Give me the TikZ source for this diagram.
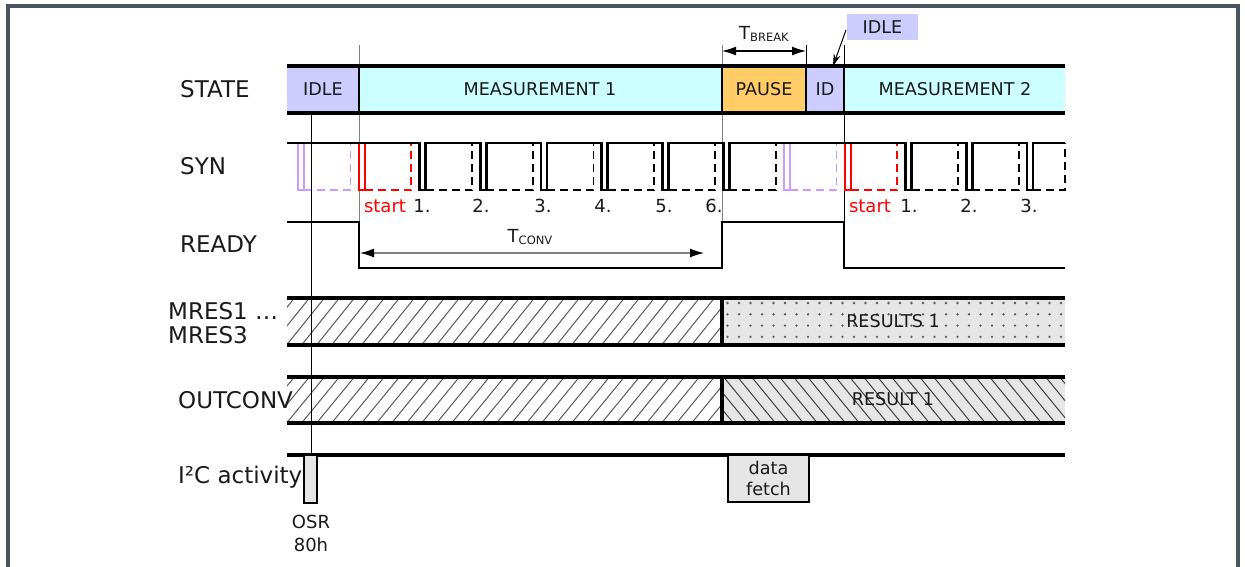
\documentclass[tikz,border=0pt]{standalone}
\usepackage{fontspec}
\setmainfont{DejaVu Sans}
\usetikzlibrary{arrows.meta}
\definecolor{lav}{HTML}{CCCCFF}
\definecolor{cyanl}{HTML}{CCFFFF}
\definecolor{orng}{HTML}{FFCC66}
\definecolor{lgray}{HTML}{E6E6E6}
\definecolor{purp}{HTML}{CC99FF}
\definecolor{framec}{HTML}{4A5562}
\definecolor{txt}{HTML}{1A1A1A}
\begin{document}
\begin{tikzpicture}[x=1pt,y=-1pt,
  rowlab/.style={anchor=west,font=\fontsize{23}{26}\selectfont,text=txt,inner sep=0pt},
  boxlab/.style={font=\fontsize{17.6}{20}\selectfont,text=txt,inner sep=0pt},
  numlab/.style={font=\fontsize{18}{20}\selectfont,text=txt,inner sep=0pt},
  bus/.style={line width=3.2pt},
  sig/.style={line width=2.8pt},
  dsig/.style={line width=1.8pt,dash pattern=on 8pt off 5pt},
  guide/.style={line width=0.9pt},
  hatch/.style={line width=1pt,black!65},
  dimarrow/.style={line width=1.3pt,{Latex[length=14pt,width=9pt,black]}-{Latex[length=14pt,width=9pt,black]}},
]
\useasboundingbox (0,0) rectangle (1245,566);
% frame
\draw[framec,line width=3.5pt] (8,600) -- (8,6) -- (1238,6) -- (1238,600);

% ---------- STATE row
\fill[lav]   (287,66) rectangle (359,113);
\fill[cyanl] (359,66) rectangle (722,113);
\fill[orng]  (722,66) rectangle (806,113);
\fill[lav]   (806,66) rectangle (844,113);
\fill[cyanl] (844,66) rectangle (1065,113);

% guides
\draw[guide,gray] (359,45) -- (359,268);
\draw[guide,gray] (722,45) -- (722,268);
\draw[guide] (806,45) -- (806,66);
\draw[guide] (844,45) -- (844,268);

\draw[bus] (287,66) -- (1065,66) (287,113) -- (1065,113);
\draw[line width=1.8pt] (359,66) -- (359,113) (722,66) -- (722,113) (806,66) -- (806,113) (844,66) -- (844,113);

\node[boxlab] (sidle) at (323,89) {IDLE};
\node[boxlab] (smeas1) at (540,89) {MEASUREMENT 1};
\node[boxlab] (spause) at (764,89) {PAUSE};
\node[boxlab] (sid) at (825,89) {ID};
\node[boxlab] (smeas2) at (955,89) {MEASUREMENT 2};

% T_BREAK
\coordinate (tbl) at (722,51);
\coordinate (tbr) at (806,51);
\draw[dimarrow] (tbl) -- (tbr);
\node[numlab] (tbreak) at (764,34) {T\raisebox{-2.5pt}{\fontsize{11.5}{12}\selectfont BREAK}};

% IDLE callout
\node[boxlab,fill=lav,minimum width=71pt,minimum height=26pt] (idlecall) at (882.5,27) {IDLE};
\coordinate (idlefrom) at (846,30);
\coordinate (idleto) at (833,66);
\draw[line width=1pt,-{Stealth[length=12pt,width=7pt]}] (idlefrom) -- (idleto);

% ---------- SYN row
\foreach \p in {298,784}{
  \draw[purp,line width=1.8pt] (\p,143) rectangle (\p+6,190);
  \draw[purp,dsig] (\p+6,190) -- (\p+52.5,190) -- (\p+52.5,143);
}
\foreach \p in {358.75,844.75}{
  \draw[red,line width=2.2pt] (\p,143) -- (\p,190) -- (\p+6,190) -- (\p+6,143);
  \draw[red,dsig] (\p+6,190) -- (\p+52.5,190) -- (\p+52.5,143);
}
\foreach \p in {419.5,480.25,541,601.75,662.5,723.25,905.5,966.25}{
  \draw[dsig] (\p+6,190) -- (\p+52.5,190) -- (\p+52.5,143);
}
\draw[dsig] (1033,190) -- (1065,190) -- (1065,143);
\draw[sig] (287,143)
  \foreach \p in {419.5,480.25,541,601.75,662.5,723.25,905.5,966.25,1027}{
    -- (\p,143) -- (\p,190) -- (\p+6,190) -- (\p+6,143)} -- (1065,143);

\node[numlab,text=red] (st1) at (385,206) {start};
\node[numlab] (n1) at (422,206) {1.};
\node[numlab] (n2) at (481,206) {2.};
\node[numlab] (n3) at (543,206) {3.};
\node[numlab] (n4) at (603,206) {4.};
\node[numlab] (n5) at (664,206) {5.};
\node[numlab] (n6) at (714,206) {6.};
\node[numlab,text=red] (st2) at (870,206) {start};
\node[numlab] (m1) at (909,206) {1.};
\node[numlab] (m2) at (969,206) {2.};
\node[numlab] (m3) at (1029,206) {3.};

% ---------- READY row
\draw[sig] (287,222) -- (359,222) -- (359,268) -- (722,268) -- (722,222) -- (844,222) -- (844,268) -- (1065,268);
\coordinate (tcl) at (360,253);
\coordinate (tcr) at (704,253);
\draw[dimarrow,draw=gray] (tcl) -- (tcr);
\node[numlab] (tconv) at (530,237) {T\raisebox{-2.5pt}{\fontsize{11.5}{12}\selectfont CONV}};

% ---------- MRES row
\begin{scope}
  \clip (287,298) rectangle (722,345);
  \foreach \i in {240,255,...,735}{ \draw[hatch] (\i,347) -- (\i+41,296); }
\end{scope}
\fill[lgray] (722,298) rectangle (1065,345);
\foreach \c in {0,...,29}{
  \foreach \r in {303,314.3,325.6,336.9}{
    \fill[black!65] (727.5+11.5*\c,\r) circle (1.3pt);
  }
}
\draw[bus] (287,298) -- (1065,298) (287,345) -- (1065,345);
\draw[line width=3.5pt] (722,298) -- (722,345);
\node[boxlab] (res1) at (893,321) {RESULTS 1};

% ---------- OUTCONV row
\begin{scope}
  \clip (287,377) rectangle (722,423);
  \foreach \i in {240,255,...,735}{ \draw[hatch] (\i,425) -- (\i+41,375); }
\end{scope}
\fill[lgray] (722,377) rectangle (1065,423);
\begin{scope}
  \clip (722,377) rectangle (1065,423);
  \foreach \i in {680,694,...,1070}{ \draw[hatch,black!75] (\i,375) -- (\i+41,425); }
\end{scope}
\draw[bus] (287,377) -- (1065,377) (287,423) -- (1065,423);
\draw[line width=3.5pt] (722,377) -- (722,423);
\node[boxlab] (res2) at (893,399) {RESULT 1};

% ---------- I2C row
\draw[guide] (311,113) -- (311,455);
\draw[bus] (287,455) -- (1065,455);
\draw[fill=lgray,line width=1.5pt] (304,455) rectangle (317,503);
\draw[fill=lgray,line width=1.5pt] (728,455) rectangle (809,502);
\node[boxlab] (dfa) at (768.5,468) {data};
\node[boxlab] (dfb) at (768.5,489) {fetch};
\node[numlab] (osr) at (311,522) {OSR};
\node[numlab] (osrh) at (311,545) {80h};

% ---------- row labels
\node[rowlab] (lstate) at (180,89) {STATE};
\node[rowlab] (lsyn) at (180,166) {SYN};
\node[rowlab] (lready) at (180,244) {READY};
\node[rowlab] (lmres1) at (168,311) {MRES1 …};
\node[rowlab] (lmres3) at (168,335) {MRES3};
\node[rowlab] (lout) at (178,400) {OUTCONV};
\node[rowlab] (li2c) at (178,477) {I²C activity};
\end{tikzpicture}
\end{document}
